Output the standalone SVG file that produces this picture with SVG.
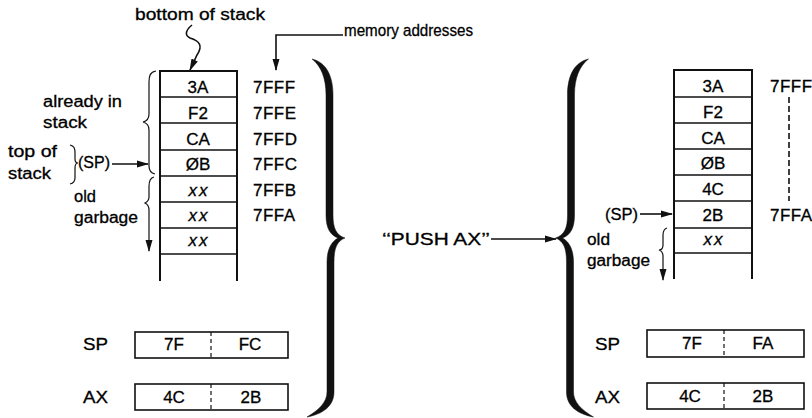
<svg xmlns="http://www.w3.org/2000/svg" width="812" height="418" viewBox="0 0 812 418">
<style>
text{font-family:"Liberation Sans",Arial,sans-serif;font-size:16px;fill:#000;stroke:#000;stroke-width:0.3}
.c{text-anchor:middle;font-size:17px}
.it{font-style:italic;letter-spacing:2px}
.ad{letter-spacing:0.5px;font-size:17px}
.box{fill:none;stroke:#111;stroke-width:1.6}
.row{stroke:#111;stroke-width:1.4}
.vert{stroke:#111;stroke-width:2}
.dash{stroke:#111;stroke-width:1.2;stroke-dasharray:4 3}
.ln{fill:none;stroke:#111;stroke-width:1.6}
.thin{fill:none;stroke:#111;stroke-width:1.2}
.big{fill:#111;stroke:#111;stroke-width:0.5}
</style>
<defs>
<marker id="ah" markerUnits="userSpaceOnUse" markerWidth="12" markerHeight="8" refX="11" refY="4" orient="auto">
<path d="M0,0.5 L12,4 L0,7.5 Z" fill="#111"/>
</marker>
<path id="brace" d="M312 59 C325 62 333 74 333 95 L333 215 C333 228 336 235 345 238 C337 241 334 248 334 262 L334 392 C334 406 323 414 307 417 C319 410 327 402 327 392 L327 262 C327 250 331 242 338 238 C330 235 326 228 326 215 L326 95 C326 78 321 66 312 59 Z"/>
</defs>

<g id="label-bottom"><text x="135" y="20" textLength="130" lengthAdjust="spacingAndGlyphs">bottom of stack</text></g>
<g id="label-memory"><text x="344" y="36" style="font-size:17px" textLength="129" lengthAdjust="spacingAndGlyphs">memory addresses</text></g>

<g id="stack-left">
<line class="vert" x1="160" y1="70" x2="160" y2="281"/>
<line class="vert" x1="237" y1="70" x2="237" y2="281"/>
<line class="vert" x1="159" y1="71" x2="238" y2="71"/>
<line class="row" x1="160" y1="97" x2="237" y2="97"/>
<line class="row" x1="160" y1="123" x2="237" y2="123"/>
<line class="row" x1="160" y1="150" x2="237" y2="150"/>
<line class="row" x1="160" y1="176" x2="237" y2="176"/>
<line class="row" x1="160" y1="202" x2="237" y2="202"/>
<line class="row" x1="160" y1="228" x2="237" y2="228"/>
<line class="row" x1="160" y1="254" x2="237" y2="254"/>
<text class="c" x="198" y="93">3A</text>
<text class="c" x="198" y="119">F2</text>
<text class="c" x="198" y="145">CA</text>
<text class="c" x="198" y="170">ØB</text>
<text class="c it" x="199" y="196">xx</text>
<text class="c it" x="199" y="221">xx</text>
<text class="c it" x="199" y="246">xx</text>
</g>

<g id="addr-left">
<text class="ad" x="253" y="93">7FFF</text>
<text class="ad" x="253" y="119">7FFE</text>
<text class="ad" x="253" y="145">7FFD</text>
<text class="ad" x="253" y="170">7FFC</text>
<text class="ad" x="253" y="196">7FFB</text>
<text class="ad" x="253" y="221">7FFA</text>
</g>

<g id="labels-left">
<text x="43" y="107" textLength="79" lengthAdjust="spacingAndGlyphs">already in</text>
<text x="43" y="128" textLength="44" lengthAdjust="spacingAndGlyphs">stack</text>
<text x="8" y="157" textLength="49" lengthAdjust="spacingAndGlyphs">top of</text>
<text x="8" y="179" textLength="43" lengthAdjust="spacingAndGlyphs">stack</text>
<text x="78" y="168" textLength="32" lengthAdjust="spacingAndGlyphs">(SP)</text>
<text x="74" y="202" textLength="22" lengthAdjust="spacingAndGlyphs">old</text>
<text x="74" y="223" textLength="64" lengthAdjust="spacingAndGlyphs">garbage</text>
</g>

<g id="reg-left">
<text x="83" y="350" textLength="25" lengthAdjust="spacingAndGlyphs">SP</text>
<rect class="box" x="135" y="332" width="153" height="26"/>
<line class="dash" x1="211" y1="332" x2="211" y2="358"/>
<text class="c" x="174" y="350">7F</text>
<text class="c" x="250" y="350">FC</text>
<text x="83" y="403" textLength="25" lengthAdjust="spacingAndGlyphs">AX</text>
<rect class="box" x="135" y="384" width="153" height="26"/>
<line class="dash" x1="211" y1="384" x2="211" y2="410"/>
<text class="c" x="174" y="403">4C</text>
<text class="c" x="251" y="403">2B</text>
</g>

<g id="brace-left"><use href="#brace" class="big"/></g>

<g id="push-label"><text x="382" y="245" textLength="108" lengthAdjust="spacingAndGlyphs">‘‘PUSH AX’’</text></g>

<g id="brace-right"><use href="#brace" class="big" transform="translate(900.5,0) scale(-1,1)"/></g>

<g id="stack-right">
<line class="vert" x1="674" y1="69" x2="674" y2="279"/>
<line class="vert" x1="752" y1="69" x2="752" y2="279"/>
<line class="vert" x1="673" y1="70" x2="753" y2="70"/>
<line class="row" x1="674" y1="97" x2="752" y2="97"/>
<line class="row" x1="674" y1="123" x2="752" y2="123"/>
<line class="row" x1="674" y1="149" x2="752" y2="149"/>
<line class="row" x1="674" y1="175" x2="752" y2="175"/>
<line class="row" x1="674" y1="201" x2="752" y2="201"/>
<line class="row" x1="674" y1="228" x2="752" y2="228"/>
<line class="row" x1="674" y1="253" x2="752" y2="253"/>
<text class="c" x="713" y="92">3A</text>
<text class="c" x="713" y="118">F2</text>
<text class="c" x="713" y="144">CA</text>
<text class="c" x="713" y="169">ØB</text>
<text class="c" x="713" y="195">4C</text>
<text class="c" x="713" y="221">2B</text>
<text class="c it" x="714" y="245">xx</text>
</g>

<g id="addr-right">
<text class="ad" x="770" y="92">7FFF</text>
<line class="dash" x1="789" y1="97" x2="789" y2="201" style="stroke-width:1.6;stroke-dasharray:6 3"/>
<text class="ad" x="770" y="221">7FFA</text>
</g>

<g id="labels-right">
<text x="605" y="220" textLength="33" lengthAdjust="spacingAndGlyphs">(SP)</text>
<text x="587" y="245" textLength="23" lengthAdjust="spacingAndGlyphs">old</text>
<text x="587" y="266" textLength="63" lengthAdjust="spacingAndGlyphs">garbage</text>
</g>

<g id="reg-right">
<text x="595" y="350" textLength="25" lengthAdjust="spacingAndGlyphs">SP</text>
<rect class="box" x="647" y="330" width="157" height="27"/>
<line class="dash" x1="724" y1="330" x2="724" y2="357"/>
<text class="c" x="692" y="349">7F</text>
<text class="c" x="763" y="349">FA</text>
<text x="595" y="403" textLength="25" lengthAdjust="spacingAndGlyphs">AX</text>
<rect class="box" x="647" y="383" width="157" height="26"/>
<line class="dash" x1="724" y1="383" x2="724" y2="409"/>
<text class="c" x="690" y="402">4C</text>
<text class="c" x="763" y="402">2B</text>
</g>

<g id="connectors">
<path class="ln" d="M192 25 C186 30 184 35 190 38 C200 41 203 46 197 55 L190 70" marker-end="url(#ah)"/>
<path class="ln" d="M343 35 L276 35 L276 70" marker-end="url(#ah)"/>
<path class="thin" d="M156 71 C150 72 149 76 149 82 L149 114 C149 119 147 121 143 122 C147 123 149 125 149 130 L149 166 C149 171 151 173 155 174"/>
<path class="thin" d="M70 145 C74 146 75 148 75 153 L75 159 C75 161 76 163 78 163 C76 163 75 165 75 168 L75 178 C75 181 74 183 70 184"/>
<line class="ln" x1="112" y1="164" x2="148" y2="164" marker-end="url(#ah)"/>
<path class="thin" d="M154 177 C150 178 149 181 149 186 L149 197 C149 200 147 202 145 203 C147 204 149 206 149 210 L149 251" marker-end="url(#ah)"/>
<line class="ln" x1="491" y1="239" x2="556" y2="239" marker-end="url(#ah)"/>
<line class="ln" x1="640" y1="214" x2="672" y2="214" marker-end="url(#ah)"/>
<path class="thin" d="M667 228 C664 229 663 231 663 235 L663 245 C663 248 662 250 659 250 C662 251 663 253 663 256 L663 280" marker-end="url(#ah)"/>
</g>
</svg>
